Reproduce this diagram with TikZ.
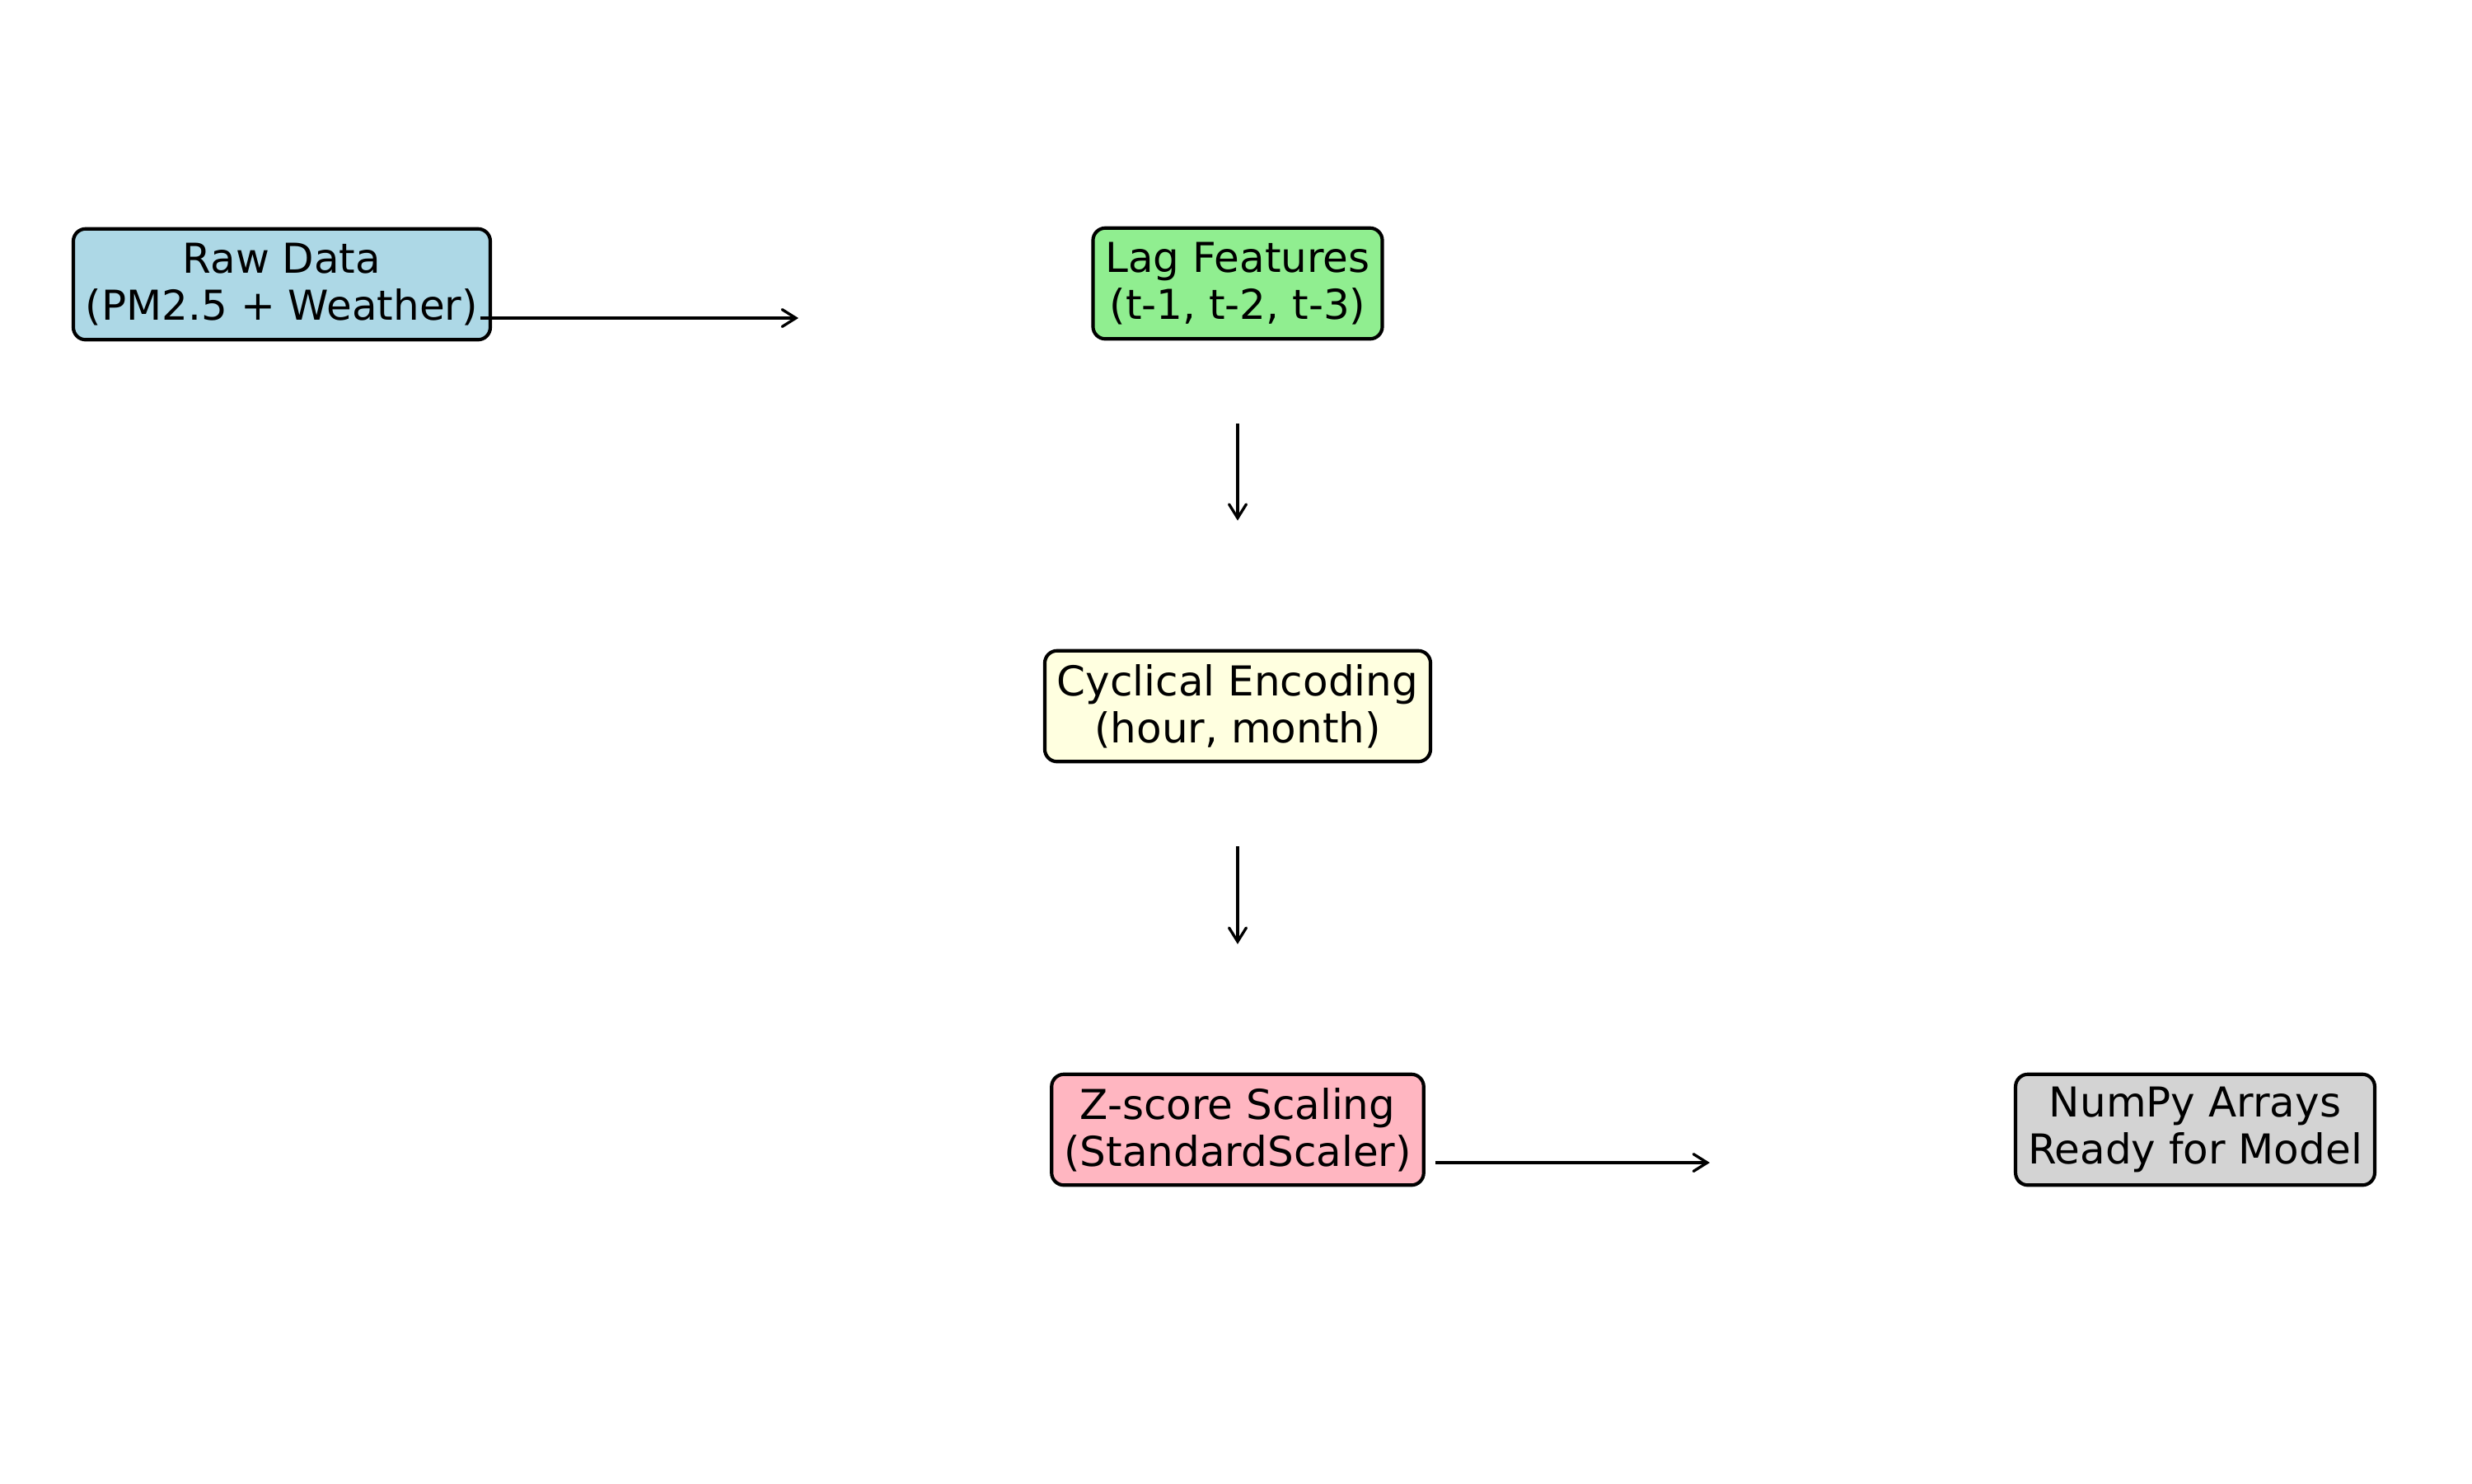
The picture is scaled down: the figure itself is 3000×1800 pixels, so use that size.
\documentclass[tikz,border=0pt]{standalone}
\usepackage{fontspec}
\setmainfont{DejaVu Sans}
\usetikzlibrary{arrows.meta}

\definecolor{rawblue}{HTML}{ADD8E6}
\definecolor{laggreen}{HTML}{90EE90}
\definecolor{cycyellow}{HTML}{FFFFE0}
\definecolor{zpink}{HTML}{FFB6C1}
\definecolor{arrgray}{HTML}{D3D3D3}

\tikzset{every picture/.style={line width=1pt}}
\tikzset{stagebox/.style={draw=black, rounded corners=3.6pt, align=center, inner xsep=3.6pt, inner ysep=0pt, minimum height=32.3pt, font=\fontsize{12}{13.7}\selectfont},
         flow/.style={-{Straight Barb[length=4pt,width=5pt,line cap=round]}, line width=0.8pt}}

\begin{document}
\begin{tikzpicture}[x=0.24pt,y=0.24pt,yscale=-1,xscale=1]
%set diagram page 3000 x 1800
\useasboundingbox (0,0) rectangle (3000,1800);

% Text Node
\node (raw) at (342,345) [stagebox, fill=rawblue] {Raw Data\\(PM2.5 + Weather)};
% Text Node
\node (lag) at (1502,344) [stagebox, fill=laggreen] {Lag Features\\(t-1, t-2, t-3)};
% Text Node
\node (cyc) at (1502,857) [stagebox, fill=cycyellow] {Cyclical Encoding\\(hour, month)};
% Text Node
\node (zsc) at (1502,1371) [stagebox, fill=zpink] {Z-score Scaling\\(StandardScaler)};
% Text Node
\node (npy) at (2664,1371) [stagebox, fill=arrgray] {NumPy Arrays\\Ready for Model};

% Arrow ends
\coordinate (rawout) at (583,386);
\coordinate (lagin) at (969,386);
\coordinate (zscout) at (1742,1411);
\coordinate (npyin) at (2075,1411);

%Arrows
\draw [flow] (rawout) -- (lagin);
\draw [flow, shorten <=24.2pt, shorten >=37.4pt] (lag) -- (cyc);
\draw [flow, shorten <=24.2pt, shorten >=37.4pt] (cyc) -- (zsc);
\draw [flow] (zscout) -- (npyin);

\end{tikzpicture}
\end{document}
